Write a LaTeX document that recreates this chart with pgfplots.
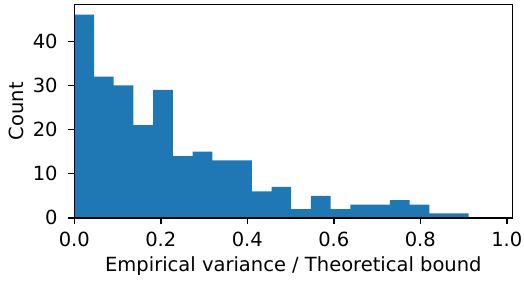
\documentclass[border={2pt 0pt 0pt 2.4pt}]{standalone}
\usepackage{fontspec}
\setmainfont{DejaVu Sans}
\usepackage{pgfplots}
\pgfplotsset{compat=1.18}
\definecolor{mplblue}{HTML}{1F77B4}
\begin{document}
\begin{tikzpicture}[trim right=(R)]
\begin{axis}[
  scale only axis,
  width=271.8pt, height=132.3pt,
  xmin=0, xmax=1.013, ymin=0, ymax=48.3,
  axis line style={line width=0.9pt},
  tick style={line width=0.9pt, black},
  tick align=outside,
  major tick length=4pt,
  xtick={0,0.2,0.4,0.6,0.8,1.0},
  ytick={0,10,20,30,40},
  xtick pos=bottom, ytick pos=left,
  /pgf/number format/assume math mode=true,
  xticklabel style={/pgf/number format/fixed, /pgf/number format/fixed zerofill, /pgf/number format/precision=1, yshift=-1.5pt},
  tick label style={font=\fontsize{12.1}{14}\selectfont},
  yticklabel style={xshift=-2.8pt},
  label style={font=\fontsize{12.1}{14}\selectfont},
  xlabel={Empirical variance / Theoretical bound},
  ylabel={Count},
  xlabel style={yshift=1pt},
  ylabel style={yshift=-1pt},
  axis on top,
]
\addplot[ybar interval, fill=mplblue, draw=none] coordinates {
(0.0000,46) (0.0456,32) (0.0912,30) (0.1368,21) (0.1824,29)
(0.2280,14) (0.2736,15) (0.3192,13) (0.3648,13) (0.4104,6)
(0.4560,7) (0.5016,2) (0.5472,5) (0.5928,2) (0.6384,3)
(0.6840,3) (0.7296,4) (0.7752,3) (0.8208,1) (0.8664,1)
(0.9120,1)
};
\end{axis}
\path (current axis.south east) ++(7.2pt,0) coordinate (R);
\end{tikzpicture}
\end{document}
